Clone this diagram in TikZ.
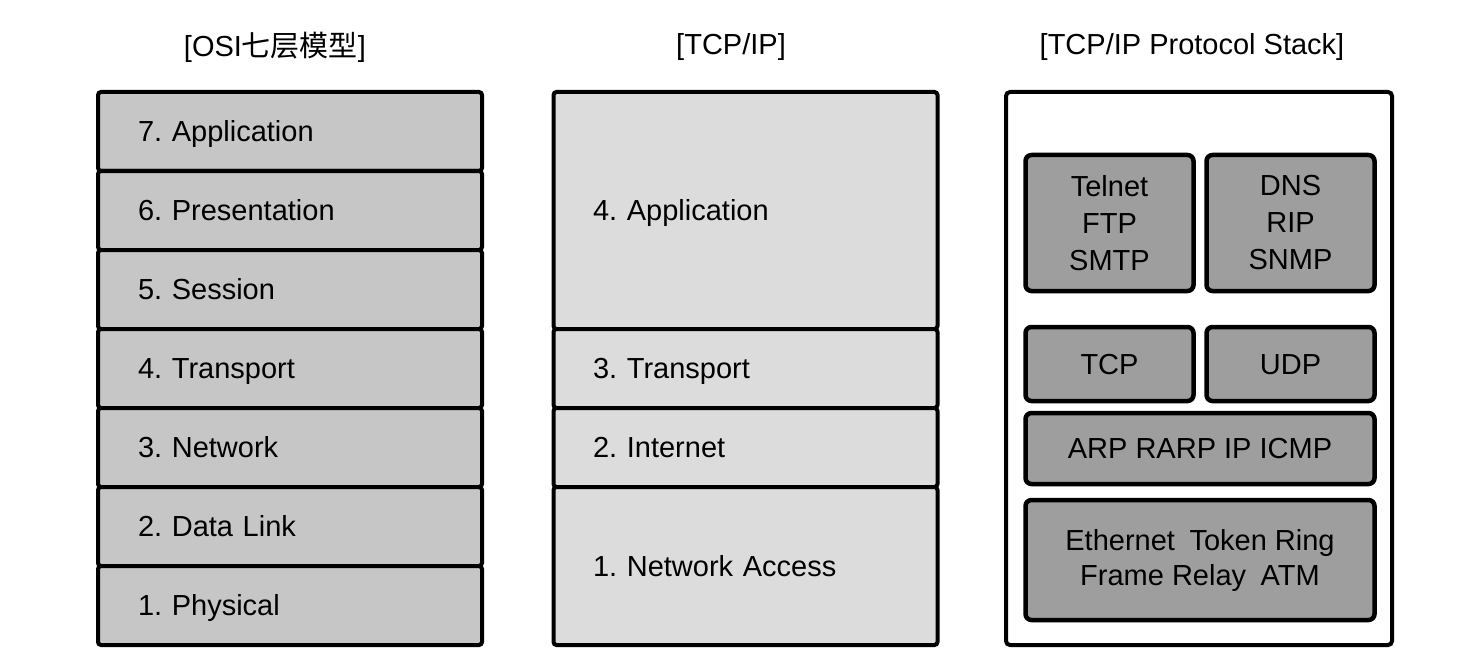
\documentclass[tikz,border=0pt]{standalone}
\usepackage{fontspec}
\setmainfont{Liberation Sans}
\newfontfamily\cjk{Noto Sans CJK SC}
\definecolor{osifill}{HTML}{C6C6C6}
\definecolor{tcpfill}{HTML}{DCDCDC}
\definecolor{protofill}{HTML}{9E9E9E}
\frenchspacing
\tikzset{
  txt/.style={font=\fontsize{29}{35}\selectfont},
  ttl/.style={font=\fontsize{29}{35}\selectfont, inner sep=0pt},
  single/.style={text height=26.8pt, text depth=6pt},
  layer/.style={draw=black, line width=4pt, rectangle, rounded corners=3pt,
    txt, align=left, inner xsep=40pt, inner ysep=0pt, text width=304pt,
    single, minimum width=384pt},
  osi/.style={layer, fill=osifill, minimum height=79pt},
  tcpl/.style={layer, fill=tcpfill, text width=305pt, inner xsep=37pt},
  outer/.style={draw=black, line width=4pt, rounded corners=4pt, fill=white},
  proto/.style={draw=black, line width=4.5pt, rounded corners=6pt, fill=protofill,
    txt, align=center, inner sep=0pt, font=\fontsize{29}{37}\selectfont}
}
\begin{document}
\begin{tikzpicture}[x=1pt,y=-1pt]
\useasboundingbox (0,0) rectangle (1478,666);
% titles
\node[ttl] (t1) at (275,47) {[OSI{\cjk 七层模型}]};
\node[ttl] (t2) at (731,47) {[TCP/IP]};
\node[ttl] (t3) at (1192,47) {[TCP/IP Protocol Stack]};
% OSI layers
\node[osi] (o7) at (290,131.5) {7. Application};
\node[osi] (o6) at (290,210.5) {6. Presentation};
\node[osi] (o5) at (290,289.5) {5. Session};
\node[osi] (o4) at (290,368.5) {4. Transport};
\node[osi] (o3) at (290,447.5) {3. Network};
\node[osi] (o2) at (290,526.5) {2. Data Link};
\node[osi] (o1) at (290,605.5) {1. Physical};
% TCP/IP layers
\node[tcpl, minimum height=237pt] (p4) at (745.5,210.5) {4. Application};
\node[tcpl, minimum height=79pt] (p3) at (745.5,368.5) {3. Transport};
\node[tcpl, minimum height=79pt] (p2) at (745.5,447.5) {2. Internet};
\node[tcpl, minimum height=158pt] (p1) at (745.5,566) {1. Network Access};
% protocol stack
\node[outer, minimum width=386pt, minimum height=553pt] (stack) at (1199,368.5) {};
\node[proto, minimum width=168pt, minimum height=136pt] (app1) at (1109.5,223) {Telnet\\FTP\\SMTP};
\node[proto, minimum width=168pt, minimum height=136pt] (app2) at (1290.5,223) {DNS\\RIP\\SNMP};
\node[proto, single, minimum width=168pt, minimum height=74pt] (tcp) at (1109.5,364) {TCP};
\node[proto, single, minimum width=168pt, minimum height=74pt] (udp) at (1290.5,364) {UDP};
\node[proto, single, minimum width=349pt, minimum height=71pt] (ip) at (1200,448.5) {ARP RARP IP ICMP};
\node[proto, minimum width=349pt, minimum height=120pt, font=\fontsize{29}{35}\selectfont] (link) at (1200,560) {Ethernet\hspace{0.5em}Token Ring\\Frame Relay\hspace{0.5em}ATM};
\end{tikzpicture}
\end{document}
